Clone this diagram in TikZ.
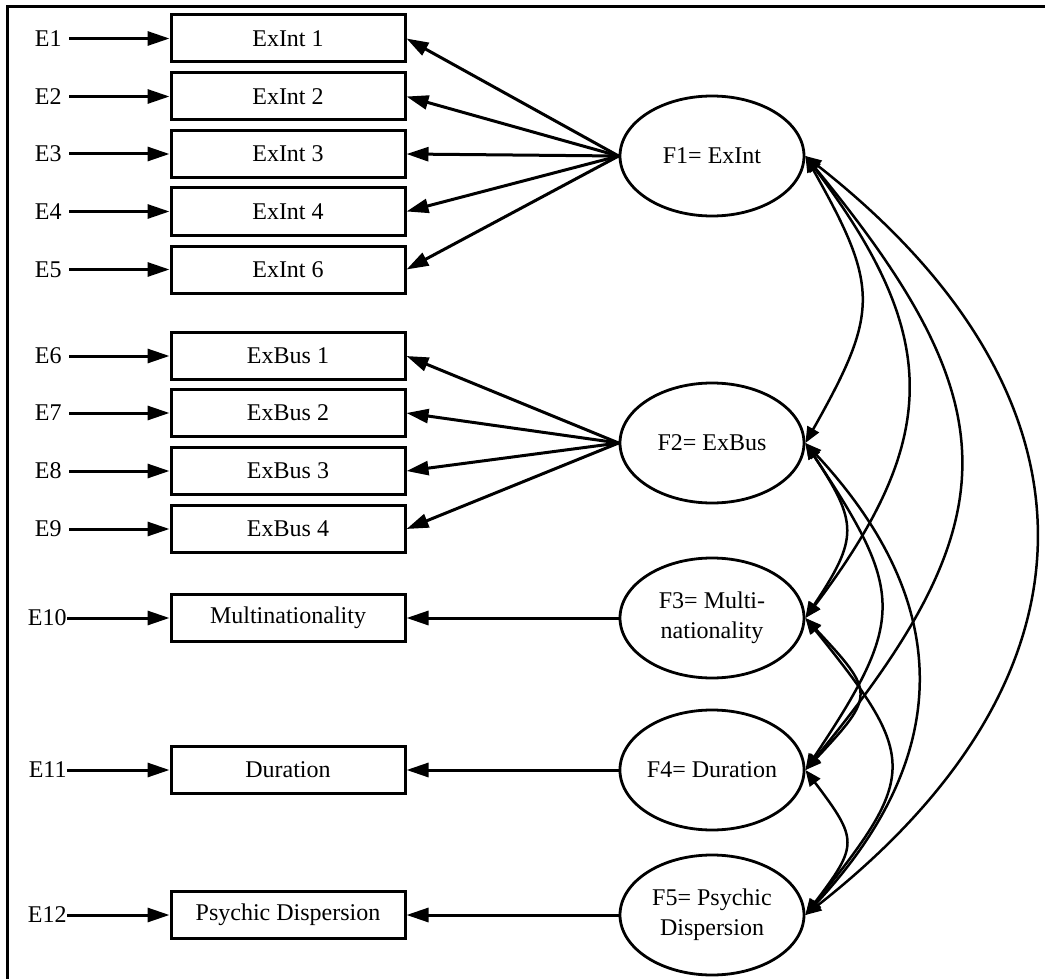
\documentclass[tikz,border=0pt]{standalone}
\usepackage{fontspec}
\setmainfont{Liberation Serif}
\usetikzlibrary{arrows.meta,shapes.geometric}
\begin{document}
\begin{tikzpicture}[x=0.5pt,y=-0.5pt,
  obs/.style={draw, line width=1.5pt, minimum width=117pt, minimum height=23.5pt, inner sep=0pt, font=\fontsize{12}{14}\selectfont},
  lat/.style={draw, ellipse, line width=1.4pt, minimum width=92pt, minimum height=60pt, inner sep=0pt, align=center, font=\fontsize{12}{15}\selectfont},
  errA/.style={anchor=east, inner xsep=3.5pt, inner ysep=0pt, font=\fontsize{12}{14}\selectfont},
  errB/.style={anchor=east, inner sep=0pt, font=\fontsize{12}{14}\selectfont},
  reg/.style={line width=1.5pt, -{Triangle[length=11pt,width=7pt]}},
  cov/.style={line width=1.25pt, {Triangle[length=8pt,width=6.5pt]}-{Triangle[length=8pt,width=6.5pt]}},
]
\useasboundingbox (0,0) rectangle (1045,979);
\draw[line width=1.7pt] (7.5,979) -- (7.5,6.3) -- (1045,6.3);

% observed variables
\node[obs] (X1) at (288,38.5) {ExInt 1};
\node[obs] (X2) at (288,96.5) {ExInt 2};
\node[obs] (X3) at (288,154) {ExInt 3};
\node[obs] (X4) at (288,211.5) {ExInt 4};
\node[obs] (X5) at (288,269.5) {ExInt 6};
\node[obs] (X6) at (288,356) {ExBus 1};
\node[obs] (X7) at (288,413) {ExBus 2};
\node[obs] (X8) at (288,471) {ExBus 3};
\node[obs] (X9) at (288,529) {ExBus 4};
\node[obs] (X10) at (288,618) {Multinationality};
\node[obs] (X11) at (288,770) {Duration};
\node[obs] (X12) at (288,915) {Psychic Dispersion};

% error terms
\node[errA] (E1) at (69,38.5) {E1};
\node[errA] (E2) at (69,96.5) {E2};
\node[errA] (E3) at (69,154) {E3};
\node[errA] (E4) at (69,211.5) {E4};
\node[errA] (E5) at (69,269.5) {E5};
\node[errA] (E6) at (69,356) {E6};
\node[errA] (E7) at (69,413) {E7};
\node[errA] (E8) at (69,471) {E8};
\node[errA] (E9) at (69,529) {E9};
\node[errB] (E10) at (67,618) {E10};
\node[errB] (E11) at (67,770) {E11};
\node[errB] (E12) at (67,915) {E12};

\foreach \i in {1,...,12} {\draw[reg] (E\i.east) -- (X\i.west);}

% latent factors
\node[lat] (F1) at (712,156) {F1= ExInt};
\node[lat] (F2) at (712,443) {F2= ExBus};
\node[lat] (F3) at (712,618) {F3= Multi-\\nationality};
\node[lat] (F4) at (712,770) {F4= Duration};
\node[lat] (F5) at (712,915) {F5= Psychic\\Dispersion};

% loadings
\foreach \i in {1,...,5} {\draw[reg] (F1.west) -- (X\i.east);}
\foreach \i in {6,...,9} {\draw[reg] (F2.west) -- (X\i.east);}
\draw[reg] (F3.west) -- (X10.east);
\draw[reg] (F4.west) -- (X11.east);
\draw[reg] (F5.west) -- (X12.east);

% covariances
\draw[cov] (F1.east) .. controls +(74,131) and +(74,-131) .. (F2.east);
\draw[cov] (F1.east) .. controls +(136,180) and +(136,-180) .. (F3.east);
\draw[cov] (F1.east) .. controls +(206,250) and +(206,-250) .. (F4.east);
\draw[cov] (F1.east) .. controls +(306,240) and +(306,-240) .. (F5.east);
\draw[cov] (F2.east) .. controls +(53,80) and +(53,-80) .. (F3.east);
\draw[cov] (F2.east) .. controls +(100,150) and +(100,-150) .. (F4.east);
\draw[cov] (F2.east) .. controls +(149,160) and +(149,-160) .. (F5.east);
\draw[cov] (F3.east) .. controls +(70,75) and +(70,-75) .. (F4.east);
\draw[cov] (F3.east) .. controls +(113,140) and +(113,-140) .. (F5.east);
\draw[cov] (F4.east) .. controls +(53,70) and +(53,-70) .. (F5.east);
\end{tikzpicture}
\end{document}
